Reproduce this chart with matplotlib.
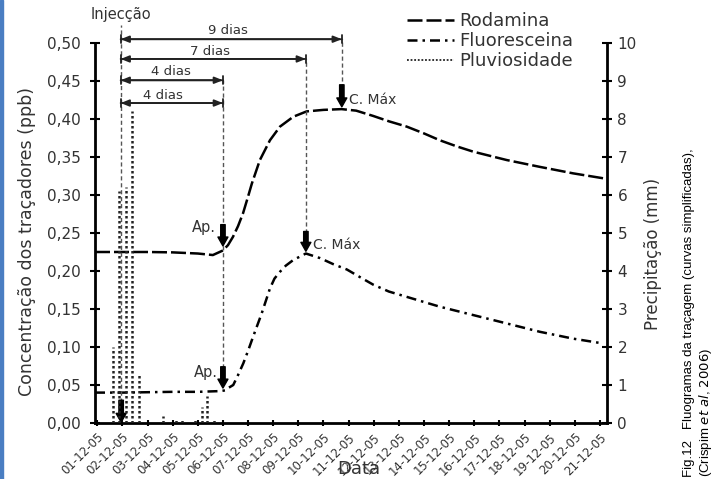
import matplotlib
matplotlib.use('Agg')
import matplotlib.pyplot as plt
from matplotlib.patches import Rectangle

plt.rcParams['font.family'] = ['DejaVu Sans']
TXT = '#333333'

# datas (dia de Dezembro 2005)
dias = list(range(1, 22))
etiquetas = ['%02d-12-05' % d for d in dias]

# Rodamina (ppb)
rod_dia = [0.91, 2, 3, 4, 5, 5.6, 6.0, 6.2, 6.4, 6.6, 6.8, 7.0, 7.15, 7.47, 7.87, 8.27,
           8.8, 9.33, 10.0, 10.72, 11.3, 11.98, 12.6, 13.31, 14.0, 14.63, 15.3, 15.96,
           17.29, 18.61, 19.93, 21.13]
rod_conc = [0.225, 0.225, 0.225, 0.2245, 0.223, 0.221, 0.227, 0.234, 0.245, 0.259, 0.276,
            0.298, 0.315, 0.346, 0.372, 0.39, 0.403, 0.41, 0.412, 0.413, 0.411, 0.404,
            0.397, 0.39, 0.381, 0.372, 0.364, 0.357, 0.346, 0.337, 0.3285, 0.322]

# Fluoresceina (ppb)
flu_dia = [0.91, 2, 4, 5, 5.9, 6.1, 6.21, 6.41, 6.6, 6.81, 7.0, 7.2, 7.54, 7.87, 8.05,
           8.27, 8.5, 8.8, 9.3, 9.86, 10.39, 10.93, 11.45, 11.98, 12.6, 13.31, 14.63,
           15.96, 17.29, 18.61, 19.93, 21.06]
flu_conc = [0.040, 0.040, 0.041, 0.041, 0.042, 0.043, 0.046, 0.05, 0.063, 0.0785, 0.095,
            0.1135, 0.144, 0.177, 0.19, 0.199, 0.207, 0.2145, 0.223, 0.217, 0.209, 0.202,
            0.192, 0.182, 0.173, 0.166, 0.153, 0.142, 0.131, 0.12, 0.111, 0.105]

# Pluviosidade (mm)
chuva_dia = [1.64, 1.875, 2.13, 2.37, 2.67, 3.63, 4.13, 4.36, 4.89, 5.15, 5.38, 5.64]
chuva_mm = [2.0, 6.1, 6.2, 8.2, 1.3, 0.18, 0.08, 0.08, 0.08, 0.42, 0.7, 0.1]

# eventos
injeccao = 1.93
chegada = 6.0
max_flu, max_rod = 9.3, 10.73
pico_flu, pico_rod = 0.226, 0.416
cheg_rod, cheg_flu = 0.233, 0.046

fig = plt.figure(figsize=(7.12, 4.79), dpi=100)
ax = fig.add_axes([95/712, 1-423/479, 512/712, 380/479])
ax2 = ax.twinx()

ax.plot(rod_dia, rod_conc, color='black', lw=1.8, dashes=(6, 1.6), label='Rodamina')
ax.plot(flu_dia, flu_conc, color='black', lw=1.8, dashes=(4, 2, 1, 2), label='Fluoresceina')
ax2.vlines(chuva_dia, 0, chuva_mm, color='#222222', lw=1.8, linestyles=(0, (1, 1)))
ax.plot([], [], color='#222222', lw=1.3, linestyle=(0, (1, 1)), label='Pluviosidade')

ax.set_xlim(0.91, 21.28)
ax.set_ylim(0, 0.5)
ax2.set_ylim(0, 10)
ax.set_yticks([i*0.05 for i in range(11)])
ax.set_yticklabels([('%.2f' % (i*0.05)).replace('.', ',') for i in range(11)])
ax2.set_yticks(range(11))
ax.set_xticks(dias)
ax.set_xticklabels(etiquetas, rotation=45, ha='right', va='top', rotation_mode='anchor',
                   fontsize=8.5, color=TXT)

for a in (ax, ax2):
    a.spines['top'].set_visible(False)
    for s in a.spines.values():
        s.set_linewidth(2)
ax.spines['right'].set_visible(False)
ax2.spines['left'].set_visible(False)
ax2.spines['bottom'].set_visible(False)
ax.tick_params(axis='y', direction='inout', length=7, width=1.5, labelsize=11, labelcolor=TXT, pad=7)
ax.tick_params(axis='x', direction='inout', length=5, width=1.5, pad=3)
ax2.tick_params(axis='y', direction='inout', length=7, width=1.5, labelsize=11, labelcolor=TXT, pad=4)

# linhas de referencia
guia = dict(color='#555555', lw=1.0, linestyle=(0, (3, 2)), clip_on=False)
ax.plot([injeccao, injeccao], [0, 0.524], **guia)
ax.plot([chegada, chegada], [0.072, 0.451], **guia)
ax.plot([max_flu, max_flu], [0.25, 0.479], **guia)
ax.plot([max_rod, max_rod], [0.441, 0.505], **guia)

# setas de tempo
def intervalo(x0, x1, y, ty, txt, tx):
    ax.annotate('', xy=(x1, y), xytext=(x0, y), annotation_clip=False,
                arrowprops=dict(arrowstyle='<|-|>,head_length=0.5,head_width=0.2', color='#222222',
                                lw=1.3, shrinkA=0, shrinkB=0))
    ax.annotate('', xy=(x1, y), xytext=(x0, y), annotation_clip=False,
                arrowprops=dict(arrowstyle='|-|,widthA=0.3,widthB=0.3', color='#222222',
                                lw=1.3, shrinkA=0, shrinkB=0))
    ax.text(tx, ty, txt, ha='center', va='center', fontsize=9.5, color=TXT, clip_on=False)

intervalo(injeccao, max_rod, 0.505, 0.517, '9 dias', 6.2)
intervalo(injeccao, max_flu, 0.479, 0.489, '7 dias', 5.5)
intervalo(injeccao, chegada, 0.451, 0.462, '4 dias', 3.95)
intervalo(injeccao, chegada, 0.421, 0.431, '4 dias', 3.6)

# setas verticais
def seta(x, y0, y1):
    ax.annotate('', xy=(x, y1), xytext=(x, y0), annotation_clip=False,
                arrowprops=dict(arrowstyle='simple,head_length=0.8,head_width=0.9,tail_width=0.4',
                                color='black', shrinkA=0, shrinkB=0, mutation_scale=8))

seta(max_rod, 0.445, pico_rod)
seta(max_flu, 0.252, pico_flu)
seta(chegada, 0.261, cheg_rod)
seta(chegada, 0.074, cheg_flu)
seta(injeccao + 0.02, 0.03, 0.001)

ax.text(5.7, 0.257, 'Ap.', ha='right', va='center', fontsize=10.5, color=TXT)
ax.text(5.8, 0.067, 'Ap.', ha='right', va='center', fontsize=10.5, color=TXT)
ax.text(11.0, 0.425, 'C. Máx', ha='left', va='center', fontsize=10, color=TXT)
ax.text(9.6, 0.234, 'C. Máx', ha='left', va='center', fontsize=10, color=TXT)
ax.text(injeccao, 0.537, 'Injecção', ha='center', va='center', fontsize=10.5, color=TXT, clip_on=False)

fig.legend(loc='upper left', bbox_to_anchor=(398/712, 1-3/479), frameon=False, fontsize=13,
           handlelength=2.6, handletextpad=0.3, labelspacing=0.12, borderpad=0, labelcolor=TXT)

fig.text(27/712, 1-242/479, 'Concentração dos traçadores (ppb)', rotation=90, ha='center',
         va='center', fontsize=12.5, color=TXT)
fig.text(653/712, 1-254/479, 'Precipitação (mm)', rotation=90, ha='center', va='center',
         fontsize=12, color=TXT)
fig.text(337/712, 1/479, 'Data', ha='left', va='bottom', fontsize=13, color=TXT)
fig.text(689/712, 2/479, 'Fig.12   Fluogramas da traçagem (curvas simplificadas),',
         rotation=90, ha='center', va='bottom', fontsize=9.5, family='Liberation Sans')
fig.text(705/712, 2/479, '(Crispim $\\mathit{et\\ al}$, $\\mathit{2006}$)', rotation=90,
         ha='center', va='bottom', fontsize=9.5, family='Liberation Sans')

fig.patches.append(Rectangle((0, 0), 3/712, 1, transform=fig.transFigure, color='#4a7ec2'))

fig.savefig('out.png', dpi=100)
